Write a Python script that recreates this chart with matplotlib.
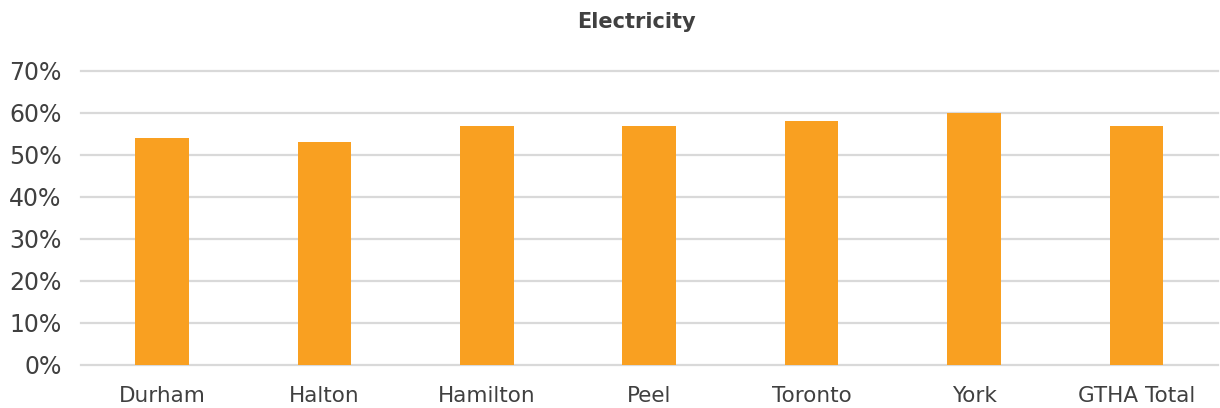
import matplotlib
matplotlib.use("Agg")
import matplotlib.pyplot as plt
from matplotlib.ticker import FuncFormatter, MultipleLocator

regions = ["Durham", "Halton", "Hamilton", "Peel", "Toronto", "York", "GTHA Total"]
electricity_share = [54, 53, 57, 57, 58, 60, 57]  # percent

bar_color = "#F9A021"
text_color = "#404040"
grid_color = "#D9D9D9"

plt.rcParams["font.family"] = ["DejaVu Sans"]

fig = plt.figure(figsize=(12.2, 4.08), dpi=100)
ax = fig.add_axes([0.0664, 0.1054, 0.9316, 0.7206])

x = range(len(regions))
ax.bar(x, electricity_share, width=0.33, color=bar_color, zorder=3)

ax.set_xlim(-0.5, len(regions) - 0.5)
ax.set_ylim(0, 70)
ax.yaxis.set_major_locator(MultipleLocator(10))
ax.yaxis.set_major_formatter(FuncFormatter(lambda v, _: f"{v:.0f}%"))
ax.grid(axis="y", color=grid_color, linewidth=1.6, zorder=0)
for gl in ax.get_ygridlines():
    gl.set_clip_on(False)
ax.set_axisbelow(True)

ax.set_xticks(list(x))
ax.set_xticklabels(regions)
ax.tick_params(axis="both", length=0, labelsize=15.5, colors=text_color)
ax.tick_params(axis="y", labelsize=17, pad=14)
ax.tick_params(axis="x", pad=15)

for side in ("top", "right", "left", "bottom"):
    ax.spines[side].set_visible(False)

fig.text(0.522, 0.945, "Electricity", ha="center", va="center",
         fontsize=15, fontweight="bold", color=text_color)

fig.savefig("out.png", dpi=100)
